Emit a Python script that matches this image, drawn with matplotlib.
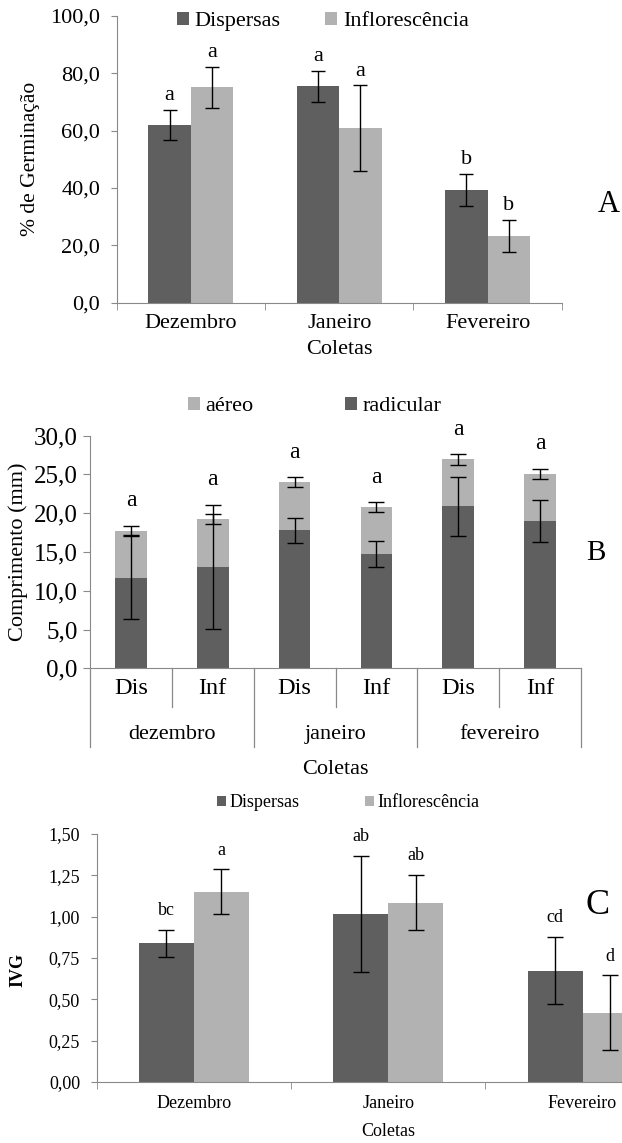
import numpy as np
import matplotlib
matplotlib.use('Agg')
import matplotlib.pyplot as plt
from matplotlib.lines import Line2D

plt.rcParams['font.family'] = ['Liberation Serif', 'DejaVu Serif']

# ---- dados ----
meses = ['Dezembro', 'Janeiro', 'Fevereiro']

# A - % de germinacao
germ_disp = [61.9, 75.4, 39.3]
germ_disp_err = [5.3, 5.4, 5.7]
germ_inf = [75.1, 60.8, 23.2]
germ_inf_err = [7.1, 15.0, 5.7]
germ_letras_disp = ['a', 'a', 'b']
germ_letras_inf = ['a', 'a', 'b']

# B - comprimento (mm)
comp_trat = ['Dis', 'Inf', 'Dis', 'Inf', 'Dis', 'Inf']
comp_meses = ['dezembro', 'janeiro', 'fevereiro']
radicular = [11.7, 13.1, 17.8, 14.7, 20.9, 19.0]
radicular_err = [5.4, 8.0, 1.6, 1.65, 3.8, 2.75]
aereo = [6.05, 6.15, 6.2, 6.05, 6.05, 6.1]
aereo_err = [0.62, 0.6, 0.66, 0.65, 0.69, 0.65]
comp_letras = ['a', 'a', 'a', 'a', 'a', 'a']

# C - IVG
ivg_disp = [0.84, 1.016, 0.674]
ivg_disp_err = [0.081, 0.353, 0.203]
ivg_inf = [1.152, 1.085, 0.42]
ivg_inf_err = [0.134, 0.167, 0.225]
ivg_letras_disp = ['bc', 'ab', 'cd']
ivg_letras_inf = ['a', 'ab', 'd']

escuro = '#5f5f5f'
claro = '#b2b2b2'
eixo = '#898989'
H = 1143.0

fig = plt.figure(figsize=(6.22, 11.43), dpi=100)


def estilo(ax):
    for s in ['top', 'right']:
        ax.spines[s].set_visible(False)
    ax.spines['left'].set_color(eixo)
    ax.spines['bottom'].set_color(eixo)


def virgula(fmt):
    return plt.FuncFormatter(lambda v, p: (fmt % v).replace('.', ','))


# ---------------- A ----------------
axA = fig.add_axes([116.7/622, 1 - 302.5/H, 445/622, 286.5/H])
x = np.arange(3)
w = 0.287
ek = dict(elinewidth=1, capthick=1)
axA.bar(x - w/2, germ_disp, w, color=escuro, label='Dispersas',
        yerr=germ_disp_err, capsize=5, error_kw=ek)
axA.bar(x + w/2, germ_inf, w, color=claro, label='Inflorescência',
        yerr=germ_inf_err, capsize=5, error_kw=ek)
for i in range(3):
    axA.text(x[i] - w/2, germ_disp[i] + germ_disp_err[i] + 5, germ_letras_disp[i],
             ha='center', va='center', fontsize=16)
    axA.text(x[i] + w/2, germ_inf[i] + germ_inf_err[i] + 5, germ_letras_inf[i],
             ha='center', va='center', fontsize=16)
axA.set_xlim(-0.5, 2.5)
axA.set_ylim(0, 100)
axA.set_yticks(np.arange(0, 101, 20))
axA.yaxis.set_major_formatter(virgula('%.1f'))
axA.set_xticks(x)
axA.set_xticklabels(meses)
axA.set_xticks([-0.5, 0.5, 1.5, 2.5], minor=True)
axA.tick_params(axis='x', which='major', length=0, labelsize=16, pad=8)
axA.tick_params(axis='x', which='minor', length=5, color=eixo)
axA.tick_params(axis='y', labelsize=16, length=4, color=eixo, pad=8)
axA.set_ylabel('% de Germinação', fontsize=15.5, va='center')
axA.yaxis.set_label_coords(-(116.7 - 30)/445, 0.5)
axA.set_xlabel('Coletas', fontsize=16, va='center')
axA.xaxis.set_label_coords(0.5, -47.5/286.5)
estilo(axA)
fig.legend(*axA.get_legend_handles_labels(), loc='center', bbox_to_anchor=(0.519, 1 - 21.7/H),
           ncol=2, frameon=False, fontsize=16, handlelength=0.55, handleheight=0.55,
           handletextpad=0.25, columnspacing=2.0, borderpad=0)
fig.text(609/622, 1 - 205/H, 'A', fontsize=22, ha='center', va='center')

# ---------------- B ----------------
axB = fig.add_axes([90/622, 1 - 668.3/H, 491/622, 232.7/H])
xb = np.arange(6)
wb = 0.387
topo = np.array(radicular) + np.array(aereo)
axB.bar(xb, radicular, wb, color=escuro, label='radicular')
axB.bar(xb, aereo, wb, bottom=radicular, color=claro, label='aéreo')
axB.errorbar(xb, topo, yerr=aereo_err, fmt='none', ecolor='black', elinewidth=1,
             capsize=6, capthick=1)
axB.errorbar(xb, radicular, yerr=radicular_err, fmt='none', ecolor='black', elinewidth=1,
             capsize=6, capthick=1)
for i in range(6):
    alto = max(topo[i] + aereo_err[i], radicular[i] + radicular_err[i])
    axB.text(xb[i], alto + 3.2, comp_letras[i], ha='center', va='center', fontsize=17)
axB.set_xlim(-0.5, 5.5)
axB.set_ylim(0, 30)
axB.set_yticks(np.arange(0, 31, 5))
axB.yaxis.set_major_formatter(virgula('%.1f'))
axB.set_xticks(xb)
axB.set_xticklabels(comp_trat)
axB.tick_params(axis='x', length=0, labelsize=17.5, pad=7)
axB.tick_params(axis='y', labelsize=18, length=5, color=eixo, pad=4)
estilo(axB)
tr = axB.get_xaxis_transform()
for xi in [0.5, 2.5, 4.5]:
    axB.add_line(Line2D([xi, xi], [0, -0.165], transform=tr, color=eixo, lw=0.9, clip_on=False))
for xi in [-0.5, 1.5, 3.5, 5.5]:
    axB.add_line(Line2D([xi, xi], [0, -0.337], transform=tr, color=eixo, lw=0.9, clip_on=False))
for j, m in enumerate(comp_meses):
    axB.text(2*j + 0.5, -0.286, m, transform=tr, ha='center', va='center', fontsize=16)
axB.set_xlabel('Coletas', fontsize=16, va='center')
axB.xaxis.set_label_coords(0.5, -0.436)
axB.set_ylabel('Comprimento (mm)', fontsize=16, va='center')
axB.yaxis.set_label_coords(-(90 - 18)/491, 0.5)
hB, lB = axB.get_legend_handles_labels()
fig.legend(hB[::-1], lB[::-1], loc='center', bbox_to_anchor=(0.506, 1 - 406.7/H),
           ncol=2, frameon=False, fontsize=16, handlelength=0.55, handleheight=0.55,
           handletextpad=0.25, columnspacing=4.1, borderpad=0)
fig.text(596/622, 1 - 553/H, 'B', fontsize=21, ha='center', va='center')

# ---------------- C ----------------
axC = fig.add_axes([96.7/622, 1 - 1082/H, 583/622, 248/H])
wc = 0.283
axC.bar(x - wc/2, ivg_disp, wc, color=escuro, label='Dispersas',
        yerr=ivg_disp_err, capsize=6, error_kw=ek)
axC.bar(x + wc/2, ivg_inf, wc, color=claro, label='Inflorescência',
        yerr=ivg_inf_err, capsize=6, error_kw=ek)
for i in range(3):
    axC.text(x[i] - wc/2, ivg_disp[i] + ivg_disp_err[i] + 0.115, ivg_letras_disp[i],
             ha='center', va='center', fontsize=13)
    axC.text(x[i] + wc/2, ivg_inf[i] + ivg_inf_err[i] + 0.115, ivg_letras_inf[i],
             ha='center', va='center', fontsize=13)
axC.set_xlim(-0.5, 2.5)
axC.set_ylim(0, 1.5)
axC.set_yticks(np.arange(0, 1.51, 0.25))
axC.yaxis.set_major_formatter(virgula('%.2f'))
axC.set_xticks(x)
axC.set_xticklabels(meses)
axC.set_xticks([-0.5, 0.5, 1.5, 2.5], minor=True)
axC.tick_params(axis='x', which='major', length=0, labelsize=13, pad=9)
axC.tick_params(axis='x', which='minor', length=5, color=eixo)
axC.tick_params(axis='y', labelsize=13, length=4, color=eixo, pad=8)
axC.set_ylabel('IVG', fontsize=13, fontweight='bold', va='center')
axC.yaxis.set_label_coords(-(96.7 - 18)/583, 1 - (970 - 834)/248)
axC.set_xlabel('Coletas', fontsize=13, va='center')
axC.xaxis.set_label_coords(0.5, -(1132 - 1082)/248)
estilo(axC)
fig.legend(*axC.get_legend_handles_labels(), loc='center', bbox_to_anchor=(0.56, 1 - 802.7/H),
           ncol=2, frameon=False, fontsize=13, handlelength=0.5, handleheight=0.5,
           handletextpad=0.2, columnspacing=3.6, borderpad=0)
fig.text(598/622, 1 - 905/H, 'C', fontsize=26, ha='center', va='center')

fig.savefig('out.png', dpi=100)
